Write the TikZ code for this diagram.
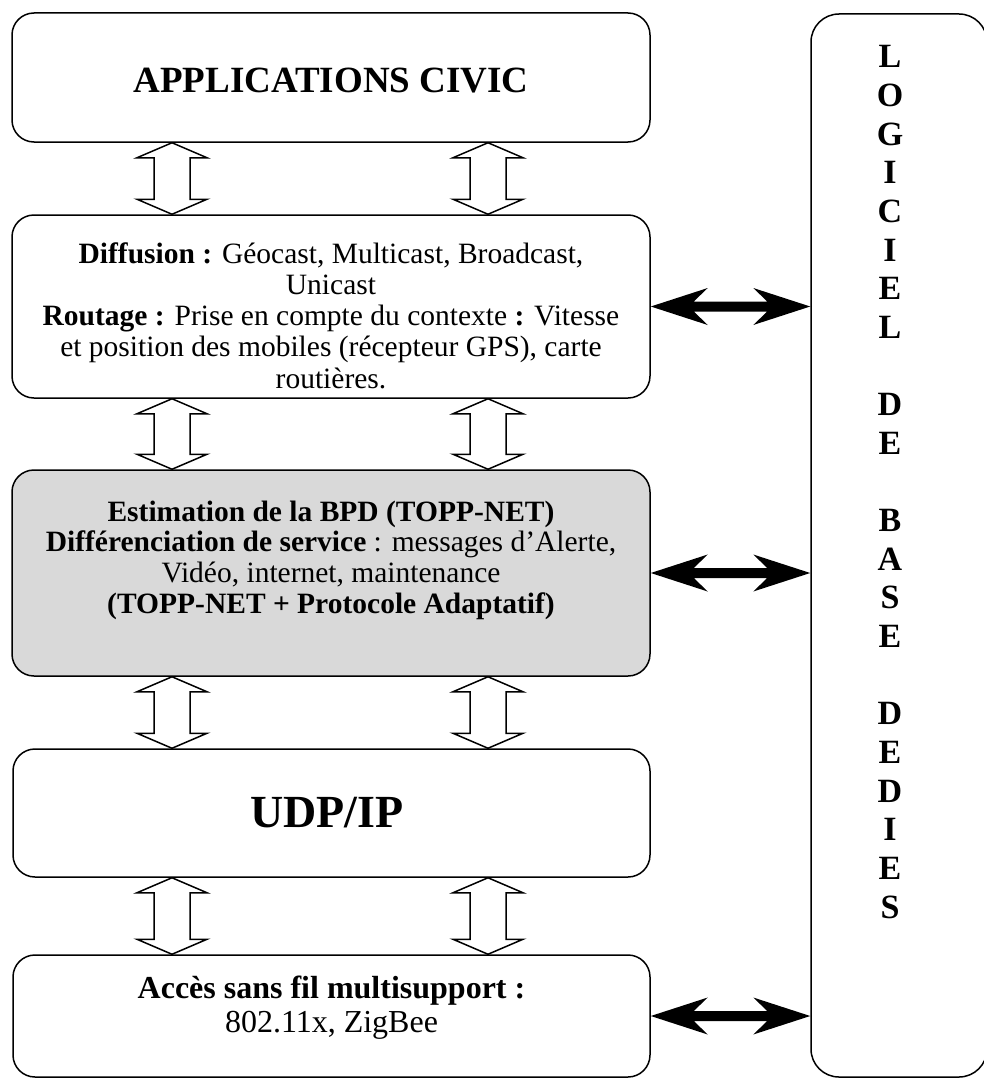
\documentclass[tikz,border=0pt]{standalone}
\usepackage{fontspec}
\setmainfont{Liberation Serif}
\usetikzlibrary{calc}
\tikzset{
  layer/.style={draw, line width=1.5pt, rounded corners=22pt, inner sep=0pt},
  txt/.style={align=center, inner sep=0pt},
  hollow/.style={draw, line width=1.5pt, fill=white, line join=miter},
  solidarrow/.style={fill=black, draw=none},
}
\newcommand{\hollowdbl}[3]{%
  \draw[hollow] (#2.south -| #1) -- ++(35,15) -- ++(-17,0) -- ($(#3.north -| #1)+(18,-15)$) -- ++(17,0) -- (#3.north -| #1) -- ++(-35,-15) -- ++(17,0) -- ($(#2.south -| #1)+(-18,15)$) -- ++(-17,0) -- cycle;}
\newcommand{\blackdbl}[2]{%
  \fill[solidarrow] (#1.east) -- ++(57,-18.5) -- ++(-14,13.5) -- ($(#2.west |- #1.east)+(-43,-5)$) -- ++(-14,-13.5) -- (#2.west |- #1.east) -- ++(-57,18.5) -- ++(14,-13.5) -- ($(#1.east)+(43,5)$) -- ++(14,13.5) -- cycle;}
\begin{document}
\begin{tikzpicture}[x=1pt,y=-1pt]
\useasboundingbox (0,0) rectangle (983,1081);
\fill[white] (0,0) rectangle (983,1081);
% side box
\node[layer, minimum width=176pt, minimum height=1063pt, rounded corners=28pt] (side) at (899,545.5) {};
\node[txt, font=\fontsize{34}{38.64}\selectfont\bfseries] (sidetext) at (890,482)
 {L\\O\\G\\I\\C\\I\\E\\L\\\mbox{}\\D\\E\\\mbox{}\\B\\A\\S\\E\\\mbox{}\\D\\E\\D\\I\\E\\S};
% layers
\node[layer, minimum width=638pt, minimum height=129pt] (app) at (331,77.5) {};
\node[layer, minimum width=638pt, minimum height=183pt] (diff) at (331,306.5) {};
\node[layer, fill=black!15, minimum width=638pt, minimum height=206pt] (est) at (331,573) {};
\node[layer, minimum width=637pt, minimum height=128pt] (udp) at (331.5,813) {};
\node[layer, minimum width=637pt, minimum height=122pt] (acc) at (331.5,1016) {};
% texts
\node[txt, font=\fontsize{37}{40}\selectfont\bfseries] (appt) at (331,81) {APPLICATIONS CIVIC};
\node[txt, font=\fontsize{29.5}{31.25}\selectfont] (difft) at (331,315.5)
 {\textbf{Diffusion :} Géocast, Multicast, Broadcast,\\ Unicast\\ \textbf{Routage :} Prise en compte du contexte \textbf{:} Vitesse\\ et position des mobiles (récepteur GPS), carte\\ routières.};
\node[txt, font=\fontsize{29.5}{30.7}\selectfont] (estt) at (331,560)
 {\textbf{Estimation de la BPD (TOPP-NET)}\\ \textbf{Différenciation de service} : messages d’Alerte,\\ Vidéo, internet, maintenance\\ \textbf{(TOPP-NET + Protocole Adaptatif)}};
\node[txt, font=\fontsize{46}{50}\selectfont\bfseries] (udpt) at (327,813) {UDP/IP};
\node[txt, font=\fontsize{32}{34}\selectfont] (acct) at (331.5,1008)
 {\textbf{Accès sans fil multisupport :}\\ 802.11x, ZigBee};
% hollow arrows
\coordinate (xl) at (172,0);
\coordinate (xr) at (488,0);
\hollowdbl{xl}{app}{diff}
\hollowdbl{xr}{app}{diff}
\hollowdbl{xl}{diff}{est}
\hollowdbl{xr}{diff}{est}
\hollowdbl{xl}{est}{udp}
\hollowdbl{xr}{est}{udp}
\hollowdbl{xl}{udp}{acc}
\hollowdbl{xr}{udp}{acc}
% black arrows
\blackdbl{diff}{side}
\blackdbl{est}{side}
\blackdbl{acc}{side}
\end{tikzpicture}
\end{document}
